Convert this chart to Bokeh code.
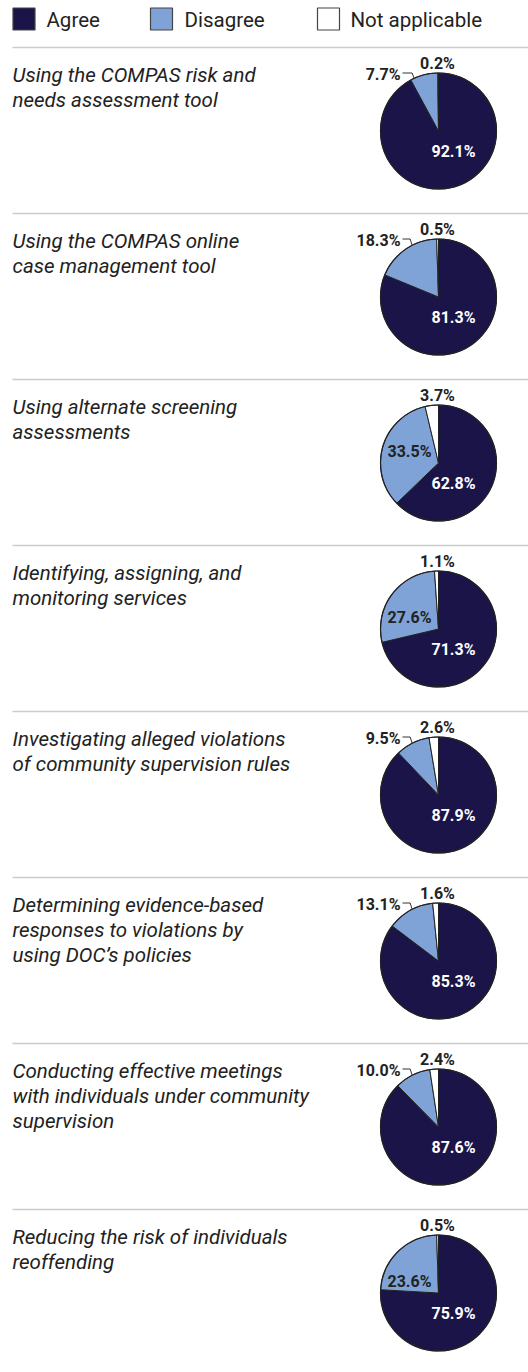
import math
from bokeh.plotting import figure
from bokeh.models import Range1d
from bokeh.core.properties import value
from bokeh.embed import file_html
from bokeh.resources import INLINE

# ---- data ----
questions = [
    "Using the COMPAS risk and\nneeds assessment tool",
    "Using the COMPAS online\ncase management tool",
    "Using alternate screening\nassessments",
    "Identifying, assigning, and\nmonitoring services",
    "Investigating alleged violations\nof community supervision rules",
    "Determining evidence-based\nresponses to violations by\nusing DOC\u2019s policies",
    "Conducting effective meetings\nwith individuals under community\nsupervision",
    "Reducing the risk of individuals\nreoffending",
]
agree = [92.1, 81.3, 62.8, 71.3, 87.9, 85.3, 87.6, 75.9]
disagree = [7.7, 18.3, 33.5, 27.6, 9.5, 13.1, 10.0, 23.6]
not_applicable = [0.2, 0.5, 3.7, 1.1, 2.6, 1.6, 2.4, 0.5]
categories = ["Agree", "Disagree", "Not applicable"]
colors = ["#1a1448", "#7fa3d6", "#ffffff"]

# ---- layout / style ----
W, H = 528, 1372
FONT = value("Roboto")
TXT = "#222222"
TOP0 = 47
STEP = 166
CX = 438
R = 58

p = figure(width=W, height=H, x_range=Range1d(0, W), y_range=Range1d(0, H),
           output_backend="svg", toolbar_location=None, min_border=0,
           x_axis_location=None, y_axis_location=None)
p.grid.visible = False
p.outline_line_color = None
p.background_fill_color = "white"
p.border_fill_color = "white"


def Y(yd):
    return H - yd


# legend
leg_sq_x = [23.5, 161, 328]
leg_tx_x = [46, 184, 350]
p.rect(x=leg_sq_x, y=[Y(18.5)] * 3, width=22, height=22, fill_color=colors,
       line_color="#444444", line_width=1.2)
p.text(x=leg_tx_x, y=[Y(19)] * 3, text=categories, text_font=FONT,
       text_font_size="20.5px", text_color=TXT, text_baseline="middle",
       text_align="left")

# separators
sep_y = [Y(TOP0 + STEP * i) for i in range(len(questions))]
p.segment(x0=[12] * len(sep_y), y0=sep_y, x1=[W] * len(sep_y), y1=sep_y,
          line_color="#cccccc", line_width=1.5)

# titles
tx, ty, tt = [], [], []
for i, q in enumerate(questions):
    top = TOP0 + STEP * i
    for j, line in enumerate(q.split("\n")):
        tx.append(12)
        ty.append(Y(top + 27 + 25 * j))
        tt.append(line)
p.text(x=tx, y=ty, text=tt, text_font=FONT, text_font_size="20.5px",
       text_font_style="italic", text_color=TXT, text_baseline="middle",
       text_align="left")

# pies
wx, wy, ws, we, wc = [], [], [], [], []
lab_white = dict(x=[], y=[], t=[])
lab_dark_c = dict(x=[], y=[], t=[])
lab_dark_r = dict(x=[], y=[], t=[])
lead_xs, lead_ys = [], []
centers_y = []

for i in range(len(questions)):
    tot = agree[i] + disagree[i] + not_applicable[i]
    fr = [agree[i] / tot, disagree[i] / tot, not_applicable[i] / tot]
    cy = Y(TOP0 + STEP * i + 83.5)
    centers_y.append(cy)
    cum = 0.0
    for k in range(3):
        start = math.pi / 2 - 2 * math.pi * (cum + fr[k])
        end = math.pi / 2 - 2 * math.pi * cum
        wx.append(CX); wy.append(cy); ws.append(start); we.append(end)
        wc.append(colors[k])
        cum += fr[k]
    # agree label
    lab_white["x"].append(CX + 15); lab_white["y"].append(cy - 20)
    lab_white["t"].append(f"{agree[i]:.1f}%")
    # not applicable label
    lab_dark_c["x"].append(CX - 1); lab_dark_c["y"].append(cy + 68)
    lab_dark_c["t"].append(f"{not_applicable[i]:.1f}%")
    # disagree label
    if disagree[i] >= 20:
        lab_dark_c["x"].append(CX - 29); lab_dark_c["y"].append(cy + 12)
        lab_dark_c["t"].append(f"{disagree[i]:.1f}%")
    else:
        lab_dark_r["x"].append(CX - 38); lab_dark_r["y"].append(cy + 57)
        lab_dark_r["t"].append(f"{disagree[i]:.1f}%")
        f = min(max(0.925, fr[0] + 0.01), fr[0] + fr[1] - 0.01)
        ex = CX + R * math.sin(2 * math.pi * f)
        ey = cy + R * math.cos(2 * math.pi * f)
        lead_xs.append([CX - 36, ex - 2, ex])
        lead_ys.append([cy + 58, cy + 58, ey])

p.wedge(x=wx, y=wy, radius=R, radius_units="screen", start_angle=ws,
        end_angle=we, fill_color=wc, line_color="#222222", line_width=1)
p.circle(x=[CX] * len(centers_y), y=centers_y, radius=R, radius_units="screen",
         fill_color=None, line_color="#222222", line_width=1.2)

p.multi_line(xs=lead_xs, ys=lead_ys, line_color="#333333", line_width=1)

p.text(x=lab_white["x"], y=lab_white["y"], text=lab_white["t"], text_font=FONT,
       text_font_size="16px", text_font_style="bold", text_color="white",
       text_align="center", text_baseline="middle")
p.text(x=lab_dark_c["x"], y=lab_dark_c["y"], text=lab_dark_c["t"], text_font=FONT,
       text_font_size="16px", text_font_style="bold", text_color=TXT,
       text_align="center", text_baseline="middle")
p.text(x=lab_dark_r["x"], y=lab_dark_r["y"], text=lab_dark_r["t"], text_font=FONT,
       text_font_size="16px", text_font_style="bold", text_color=TXT,
       text_align="right", text_baseline="middle")

open("out.html", "w").write(file_html(p, INLINE))
